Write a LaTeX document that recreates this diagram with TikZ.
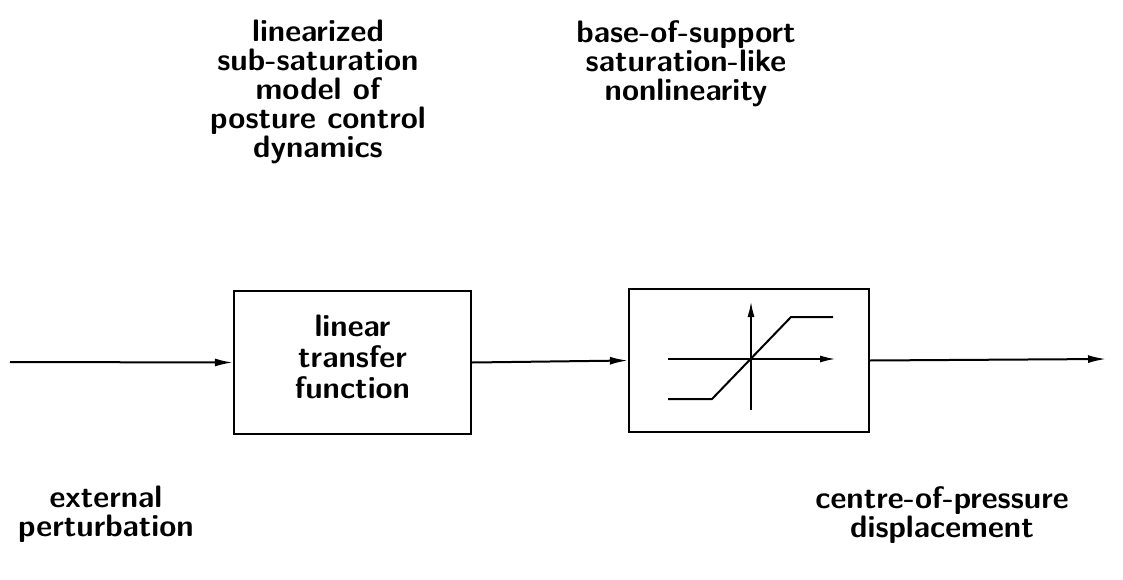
\documentclass[tikz,border=0pt]{standalone}
\usetikzlibrary{arrows.meta}
\begin{document}
\begin{tikzpicture}[x=1pt,y=-1pt,
  lbl/.style={align=center,inner sep=0pt,font=\sffamily\bfseries\fontsize{31}{29}\selectfont},
  boxlbl/.style={align=center,inner sep=0pt,font=\sffamily\bfseries\fontsize{31}{31}\selectfont},
  blk/.style={draw,line width=2.2pt,inner sep=0pt},
  conn/.style={line width=2pt,-{Latex[length=18pt,width=8pt]}},
  ax/.style={line width=2pt,-{Latex[length=16pt,width=7pt]}}]
\useasboundingbox (0,0) rectangle (1123,580);
\node[blk,minimum width=237pt,minimum height=143pt] (b1) at (352.5,362.5) {};
\node[blk,minimum width=240pt,minimum height=143pt] (b2) at (749,360.5) {};
\node[boxlbl] (t1) at (352.5,357) {linear\\transfer\\function};
\coordinate (in) at (10,362);
\coordinate (out) at (1106,359);
\draw[conn] (in) -- (b1.west);
\draw[conn] (b1.east) -- (b2.west);
\draw[conn] (b2.east) -- (out);
% saturation characteristic
\coordinate (vb) at (751,410);
\coordinate (vt) at (751,301);
\coordinate (hl) at (668,359);
\coordinate (hr) at (836,359);
\draw[ax] (vb) -- (vt);
\draw[ax] (hl) -- (hr);
\coordinate (s1) at (668,399);
\coordinate (s2) at (712,399);
\coordinate (s3) at (791,317);
\coordinate (s4) at (833,317);
\draw[line width=2pt] (s1) -- (s2) -- (s3) -- (s4);
\node[lbl,anchor=north] (top1) at (318,20) {linearized\\sub-saturation\\model of\\posture control\\dynamics};
\node[lbl,anchor=north] (top2) at (686,20) {base-of-support\\saturation-like\\nonlinearity};
\node[lbl,anchor=north] (bl) at (106,486) {external\\perturbation};
\node[lbl,anchor=north] (br) at (942,486) {centre-of-pressure\\displacement};
\end{tikzpicture}
\end{document}
